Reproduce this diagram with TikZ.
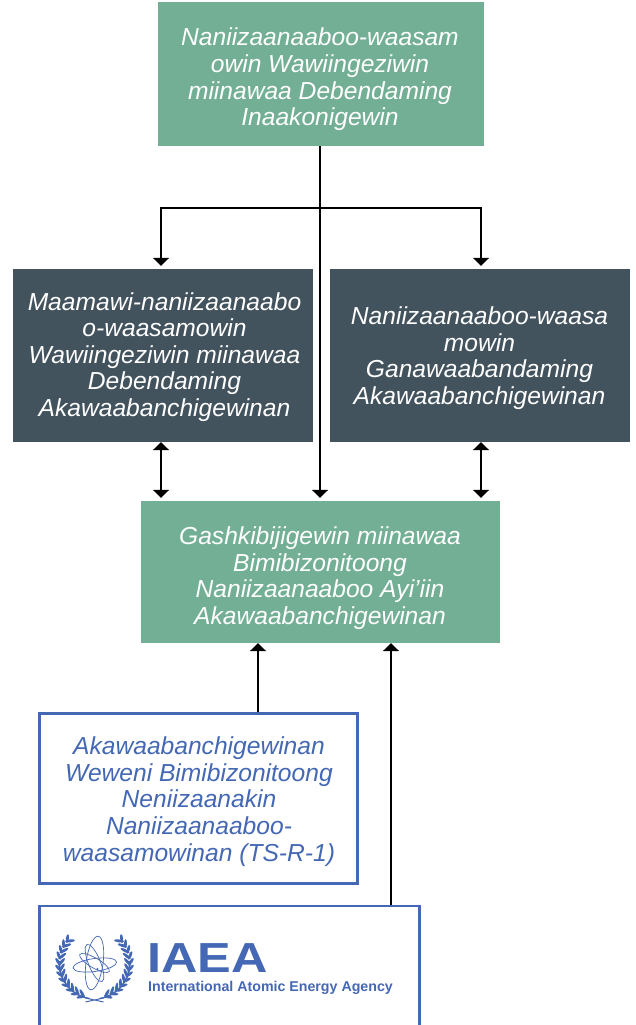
\documentclass[tikz,border=0pt]{standalone}
\usepackage{fontspec}
\setmainfont{Liberation Sans}
\usetikzlibrary{arrows.meta}
\definecolor{boxgreen}{HTML}{72AF95}
\definecolor{boxdark}{HTML}{42535D}
\definecolor{iaeablue}{HTML}{4468B4}
\tikzstyle{block} = [rectangle, inner sep=0pt, align=center, text=white, font=\fontsize{24.6}{26.6}\selectfont\itshape]
\tikzstyle{greenblock} = [block, fill=boxgreen]
\tikzstyle{darkblock} = [block, fill=boxdark]
\tikzstyle{blueblock} = [block, draw=iaeablue, line width=2.3pt, fill=white, text=iaeablue]
\tikzstyle{link} = [line width=2.8pt, shorten >=3pt, -{Triangle[width=16pt,length=8pt]}]
\tikzstyle{uplink} = [line width=2.8pt, -{Triangle[width=16pt,length=8pt]}]
\tikzstyle{twolink} = [line width=2.8pt, shorten >=3pt, {Triangle[width=16pt,length=8pt]}-{Triangle[width=16pt,length=8pt]}]
\tikzstyle{leaf} = [fill=iaeablue, draw=none]
\tikzstyle{orbit} = [draw=iaeablue, line width=0.7pt]

\begin{document}
\begin{tikzpicture}[x=1pt,y=1pt]
        \useasboundingbox (0,0) rectangle (635,1025);
        % Upper boxes
        \node (dibaajimowin) at (321,951) [greenblock, minimum width=326pt, minimum height=144pt] {};
        \node (dibaajitext) at (320,945.5) [block] {
            Naniizaanaaboo-waasam\\
            owin Wawiingeziwin\\
            miinawaa Debendaming\\
            Inaakonigewin};
        \node (maamawi) at (163,669.5) [darkblock, minimum width=300pt, minimum height=173pt] {};
        \node (maamawitext) at (164.5,668) [block] {
            Maamawi-naniizaanaabo\\
            o-waasamowin\\
            Wawiingeziwin miinawaa\\
            Debendaming\\
            Akawaabanchigewinan};
        \node (ganawaab) at (480,669.5) [darkblock, minimum width=300pt, minimum height=173pt] {};
        \node (ganawaabtext) at (479.5,667) [block] {
            Naniizaanaaboo-waasa\\
            mowin\\
            Ganawaabandaming\\
            Akawaabanchigewinan};
        \node (gashki) at (320.5,453) [greenblock, minimum width=359pt, minimum height=142pt] {};
        \node (gashkitext) at (320,447) [block] {
            Gashkibijigewin miinawaa\\
            Bimibizonitoong\\
            Naniizaanaaboo Ayi’iin\\
            Akawaabanchigewinan};
        % Lower boxes
        \node (weweni) at (198.5,226.5) [blueblock, minimum width=318pt, minimum height=170pt] {};
        \node (wewenitext) at (199,223.5) [block, text=iaeablue] {
            Akawaabanchigewinan\\
            Weweni Bimibizonitoong\\
            Neniizaanakin\\
            Naniizaanaaboo-\\
            waasamowinan (TS-R-1)};
        \node (iaea) at (229.5,50) [blueblock, minimum width=380pt, minimum height=138pt] {};
        \node (iaeaname) at (207.5,67) [text=iaeablue, inner sep=0pt, xscale=1.2, transform shape, font=\fontsize{42}{42}\selectfont\bfseries] {IAEA};
        \node (iaeafull) at (270.5,37.5) [text=iaeablue, inner sep=0pt, font=\fontsize{14.2}{15}\selectfont\bfseries] {International Atomic Energy Agency};

        % Connectors
        \coordinate (fork) at (320,817);
        \draw[link] (fork |- dibaajimowin.south) -- (fork |- gashki.north);
        \draw[line width=2.8pt] (161,817) -- (481,817);
        \draw[link] (fork) -| ([xshift=-2pt]maamawi.north);
        \draw[link] (fork) -| ([xshift=1pt]ganawaab.north);
        \draw[twolink] ([xshift=-2pt]maamawi.south) -- ([xshift=-2pt]maamawi.south |- gashki.north);
        \draw[twolink] ([xshift=1pt]ganawaab.south) -- ([xshift=1pt]ganawaab.south |- gashki.north);
        \draw[uplink] ([xshift=59.5pt]weweni.north) -- ([xshift=59.5pt]weweni.north |- gashki.south);
        \draw[uplink] ([xshift=161.5pt]iaea.north) -- ([xshift=161.5pt]iaea.north |- gashki.south);

        % Emblem
        \begin{scope}[shift={(94.5,62)}]
            \draw[orbit, rotate=82] (0,0) ellipse (27 and 8.5);
            \draw[orbit, rotate=8] (0,-2) ellipse (22 and 6.5);
            \draw[orbit, rotate=-30] (0,0) ellipse (17 and 5);
            \draw[orbit, rotate=112] (0,0) ellipse (20 and 6);
            \fill[iaeablue] (3,-6) circle (1.2);
            \foreach \s in {1,-1} {
                \begin{scope}[xscale=\s]
                    \draw[iaeablue, line width=1.4pt] (-35,2) arc (177:262:35 and 36);
                    \foreach \a in {138,148,...,250} {
                        \fill[leaf] (\a:33) ellipse [x radius=5, y radius=1.5, rotate=\a+50];
                        \fill[leaf] (\a:36.5) ellipse [x radius=4.5, y radius=1.5, rotate=\a+125];
                    }
                \end{scope}
            }
            \draw[iaeablue, line width=1pt] (-9,-39) -- (9,-35) (9,-39) -- (-9,-35);
        \end{scope}
\end{tikzpicture}
\end{document}
